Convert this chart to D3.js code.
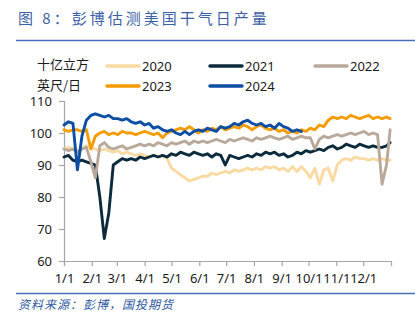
<!DOCTYPE html>
<html><head><meta charset="utf-8">
<script src="https://cdn.jsdelivr.net/npm/d3@7"></script>
<style>
html,body{margin:0;padding:0;background:#fff;}
svg{display:block;}
</style></head>
<body>
<svg id="chart" width="415" height="323"></svg>
<script>
// day of year, every 5 days (last point = 364)
const days = d3.range(0, 365, 5).concat([364]);
const monthTickDays = [0,31,59,90,120,151,181,212,243,273,304,334];
const monthTickLabels = ["1/1","2/1","3/1","4/1","5/1","6/1","7/1","8/1","9/1","10/1","11/1","12/1"];
const yTicks = [60,70,80,90,100,110];
const seriesNames = ["2020","2021","2022","2023","2024"];
const seriesColors = ["#f9daa2","#0c2b3d","#b8a99a","#f49b05","#0c4ea3"];

const v2020 = [95,95.5,95,94.5,95,96,95.5,95,94.5,95,94.5,94,94.5,93.5,94,93.5,93,93.5,93,92.5,93,92.5,93,92,
  89,88,87,86,85,85.5,86,86.5,86.5,87.5,87,87.5,88,87.5,88.5,88,88.5,89,88.5,89,88.5,89.5,89,89.5,88.5,89,88,89.5,88,89.5,
  88,86,89,84,88.5,89,85,90,91.5,92,91.5,92.5,92,92,91.5,92,91.5,92,91.5,91.5];
const v2021 = [92.5,93,91.5,91,91.5,91,90.5,90,80,67,75,90,91,92,91.5,92,91.5,92.5,92,92.5,93,92.5,93,92.5,
  93.5,93,94,93.5,93,94,93.5,93,93.5,92.5,93.5,93,90,93,92.5,92,92.5,93,92.5,93.5,93,94,93.5,94,93,93.5,92.5,93,94,93.5,
  94.5,94,94.5,95,94.5,95.5,96,95,95.5,96.5,96,95.5,96.5,96,95.5,96,95.5,95.5,96,97];
const v2022 = [95,94.5,95,94,95,95.5,91,86,96,97,95.5,95,95.5,96,95,95.5,96,96.5,96,96.5,96,97,96.5,96,
  97,96.5,97,97.5,96.5,97.5,97,97.5,97,97.5,98,97.5,97,98,97.5,98,98.5,98,97.5,98.5,98,98.5,99,98.5,98,98.5,99,98,98.5,99,
  98.5,98.5,95,98,99,98.5,99,99.5,99,99.5,100,99.5,100,100.5,99.5,100,99.5,84,90,101];
const v2023 = [101,100.5,101,101,100.5,101,95,99,100,100.5,99.5,100,99.5,100.5,100,100,99.5,100,100.5,100,99.5,100,98.5,100,
  100.5,101,101.5,101,102,101,100,101,100.5,101.5,101,102,101,101.5,102,101.5,102.5,102,101,102,102.5,101.5,101,101.5,100.5,101,100,100.5,100,101,
  100.5,101.5,101,102.5,102,104,105,104.5,105,104.5,105.5,105,104.5,105,105.5,104.5,105,104.5,105,104.5];
const v2024 = [102.5,103.5,103,88.5,99,104,105.5,106,105.5,105,105.5,104.5,104.5,104,104.5,103.5,103,103.5,102.5,103,101.5,102,101,100.5,
  101,100,99.5,100.5,99.5,100.5,101,100.5,101.5,101,100.5,102,101.5,102,103,102.5,103.5,104,103,102.5,103,102,102.5,101.5,103,102,101.5,100.5,101,100.5,
  null,null,null,null,null,null,null,null,null,null,null,null,null,null,null,null,null,null,null,null];
const seriesValues = [v2020, v2021, v2022, v2023, v2024];

const svg = d3.select("#chart");
const cjk = "'Noto Sans CJK SC','Noto Sans',sans-serif";
const num = "'Noto Sans','Open Sans',sans-serif";

// title
svg.append("text").attr("x",18).attr("y",24)
  .attr("font-family",cjk).attr("font-size",15).attr("letter-spacing",3)
  .attr("fill","#3d5fa5").text("图 8：彭博估测美国干气日产量");
svg.append("line").attr("x1",16).attr("x2",415).attr("y1",40.5).attr("y2",40.5)
  .attr("stroke","#4a6fb8").attr("stroke-width",1.3);

// footer
svg.append("line").attr("x1",16).attr("x2",415).attr("y1",293.5).attr("y2",293.5)
  .attr("stroke","#4a6fb8").attr("stroke-width",1.3);
svg.append("text").attr("x",18).attr("y",309)
  .attr("font-family",cjk).attr("font-size",12).attr("font-style","italic").attr("letter-spacing",1)
  .attr("fill","#2f5aa0").text("资料来源：彭博，国投期货");

// unit label
svg.append("text").attr("x",37).attr("y",69).attr("font-family",cjk).attr("font-size",13).attr("fill","#1a1a1a").text("十亿立方");
svg.append("text").attr("x",37).attr("y",89.5).attr("font-family",cjk).attr("font-size",13).attr("fill","#1a1a1a").text("英尺/日");

// scales
const x = d3.scaleLinear().domain([0,365]).range([64,391]);
const y = d3.scaleLinear().domain([60,110]).range([261,101]);

// axes
const yAxis = svg.append("g").attr("transform","translate(64,0)")
  .call(d3.axisLeft(y).tickValues(yTicks).tickSize(5).tickPadding(7));
const xAxis = svg.append("g").attr("transform","translate(0,261)")
  .call(d3.axisBottom(x).tickValues(monthTickDays).tickFormat((d,i)=>monthTickLabels[i]).tickSize(5).tickPadding(8));
[yAxis,xAxis].forEach(g=>{
  g.select(".domain").attr("stroke","#a6a6a6").attr("stroke-width",1.2);
  g.selectAll(".tick line").attr("stroke","#a6a6a6").attr("stroke-width",1.2);
  g.selectAll(".tick text").attr("font-family",num).attr("font-size",13).attr("fill","#1a1a1a");
});

// lines
const line = d3.line()
  .defined(d=>d[1]!=null)
  .x(d=>x(d[0])).y(d=>y(d[1]))
  .curve(d3.curveLinear);
seriesValues.forEach((vals,i)=>{
  svg.append("path")
    .datum(days.map((d,j)=>[d,vals[j]]))
    .attr("fill","none").attr("stroke",seriesColors[i]).attr("stroke-width",2.9)
    .attr("stroke-linejoin","round").attr("stroke-linecap","round")
    .attr("d",line);
});

// legend
const legendPos = [[107,66],[210,66],[315,66],[107,86],[210,86]];
seriesNames.forEach((n,i)=>{
  const [lx,ly] = legendPos[i];
  svg.append("line").attr("x1",lx).attr("x2",lx+32).attr("y1",ly).attr("y2",ly)
    .attr("stroke",seriesColors[i]).attr("stroke-width",3.5).attr("stroke-linecap","round");
  svg.append("text").attr("x",lx+35).attr("y",ly+5).attr("font-family",num).attr("font-size",13)
    .attr("fill","#1a1a1a").text(n);
});
</script>
</body></html>
